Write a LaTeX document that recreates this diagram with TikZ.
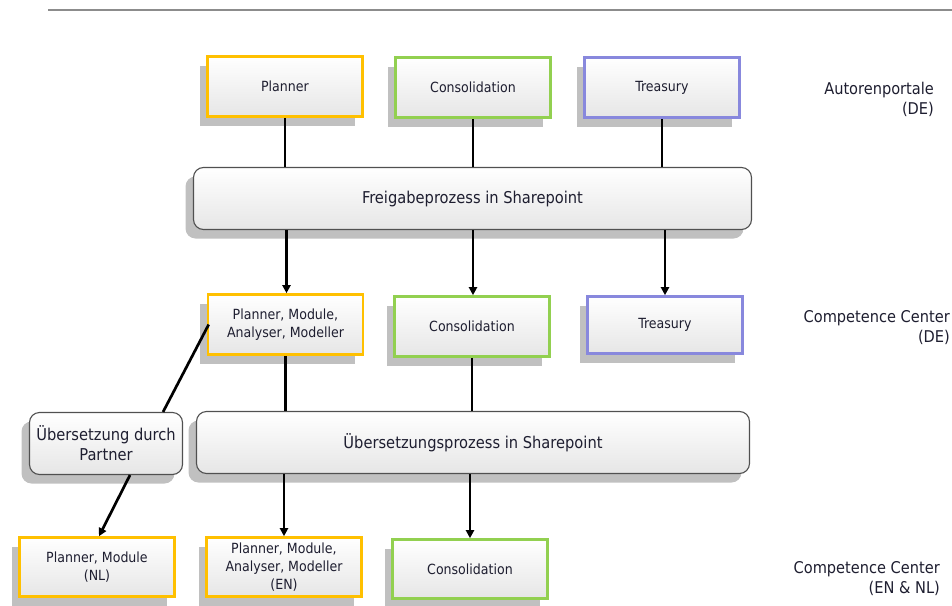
\documentclass[tikz,border=0pt]{standalone}
\usepackage{fontspec}
\setmainfont{DejaVu Sans Condensed}
\usetikzlibrary{shadows,arrows.meta,calc}
\definecolor{cyel}{HTML}{FFC000}
\definecolor{cgrn}{HTML}{92D050}
\definecolor{cblu}{HTML}{8888DD}
\definecolor{shgray}{HTML}{C0C0C0}
\definecolor{boxbot}{HTML}{E6E6E6}
\definecolor{txt}{HTML}{1E1E30}
\definecolor{rline}{HTML}{505050}
\tikzset{
  x=1pt, y=-1pt,
  boxbase/.style={top color=white, bottom color=boxbot, align=center, text=txt,
    inner sep=2pt,
    drop shadow={shadow xshift=-8pt, shadow yshift=-9pt, fill=shgray, opacity=1}},
  sqbox/.style={boxbase, draw=#1, line width=2.6pt, minimum width=155pt, minimum height=60pt,
    font=\fontsize{14}{18}\selectfont},
  rbox/.style={boxbase, draw=rline, line width=1.1pt, rounded corners=10pt, minimum height=62pt,
    font=\fontsize{16.3}{20}\selectfont},
  lab/.style={align=right, anchor=east, text=txt, inner sep=0pt, font=\fontsize{16.2}{20}\selectfont},
  conn/.style={draw=black, line width=2.7pt},
  arr/.style={conn, -{Triangle[length=8pt,width=8pt]}}
}
\begin{document}
\begin{tikzpicture}
\useasboundingbox (0,0) rectangle (952,605);
\draw[color=gray!90, line width=2.4pt] (48,10) -- (952,10);

% row 1
\node[sqbox=cyel] (p1) at (285,86.5) {Planner};
\node[sqbox=cgrn] (c1) at (473,87.5) {Consolidation};
\node[sqbox=cblu] (t1) at (662,87.5) {Treasury};
\node[lab] (l1) at (934,99) {Autorenportale\\(DE)};

\node[rbox, minimum width=558pt] (frei) at (472.5,198.5) {Freigabeprozess in Sharepoint};

% row 2
\node[sqbox=cyel] (p2) at (285.5,324.5) {Planner, Module,\\Analyser, Modeller};
\node[sqbox=cgrn] (c2) at (472,326.5) {Consolidation};
\node[sqbox=cblu, minimum height=57pt] (t2) at (665,325) {Treasury};
\node[lab] (l2) at (950,328) {Competence Center\\(DE)};

\node[rbox, minimum width=153pt] (partner) at (106,443.5) {Übersetzung durch\\Partner};
\node[rbox, minimum width=553pt] (ueber) at (473,442.5) {Übersetzungsprozess in Sharepoint};

% row 3
\node[sqbox=cyel, minimum height=59pt] (p3) at (97,567) {Planner, Module\\(NL)};
\node[sqbox=cyel, minimum height=59pt] (p4) at (284,567) {Planner, Module,\\Analyser, Modeller\\(EN)};
\node[sqbox=cgrn, minimum height=59pt] (c3) at (470,569) {Consolidation};
\node[lab] (l3) at (940,579) {Competence Center\\(EN \& NL)};

% connectors
\draw[conn] (p1.south) -- (p1.south |- frei.north);
\draw[conn] (c1.south) -- (c1.south |- frei.north);
\draw[conn] (t1.south) -- (t1.south |- frei.north);

\draw[arr] ($(frei.south -| p2.north)+(1,0)$) -- ($(p2.north)+(1,0)$);
\draw[arr] ($(frei.south -| c2.north)+(1,0)$) -- ($(c2.north)+(1,0)$);
\draw[arr] (frei.south -| t2.north) -- (t2.north);

\draw[conn] ($(p2.west)+(2,0)$) -- ($(partner.north east)+(-20,0)$);
\draw[conn] (p2.south) -- (p2.south |- ueber.north);
\draw[conn] (c2.south) -- (c2.south |- ueber.north);

\draw[arr] ($(partner.south)+(24,0)$) -- ($(p3.north)+(2,0)$);
\draw[arr] (ueber.south -| p4.north) -- (p4.north);
\draw[arr] (ueber.south -| c3.north) -- (c3.north);
\end{tikzpicture}
\end{document}
